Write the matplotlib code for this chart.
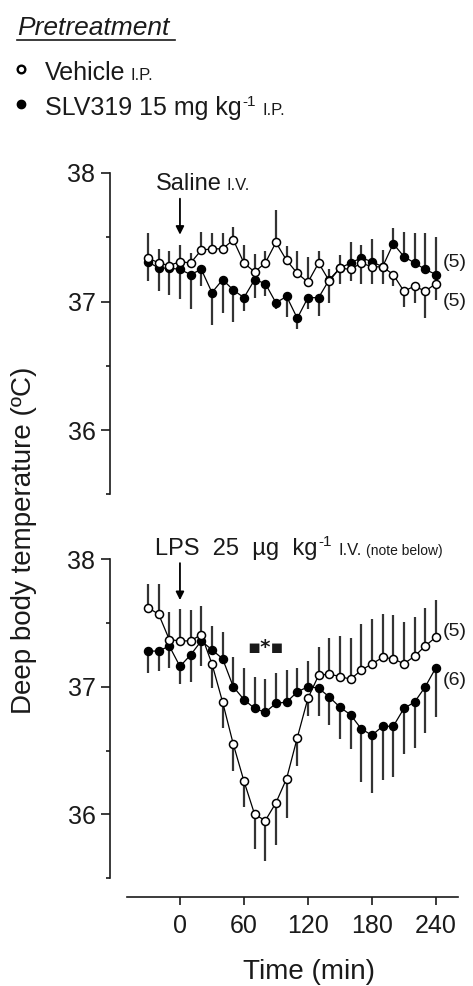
import numpy as np
import matplotlib
matplotlib.use("Agg")
import matplotlib.pyplot as plt
from matplotlib.lines import Line2D
from matplotlib.ticker import FixedLocator

plt.rcParams['font.family'] = ['Liberation Sans', 'DejaVu Sans']

# ---------------- data ----------------
time_min = [-30, -20, -10, 0, 10, 20, 30, 40, 50, 60, 70, 80, 90, 100, 110,
            120, 130, 140, 150, 160, 170, 180, 190, 200, 210, 220, 230, 240]

# Top panel: Saline I.V.
saline_vehicle = [37.34, 37.30, 37.28, 37.31, 37.30, 37.40, 37.41, 37.41, 37.48, 37.30,
                  37.23, 37.30, 37.46, 37.32, 37.22, 37.15, 37.30, 37.16, 37.26, 37.25,
                  37.30, 37.27, 37.27, 37.21, 37.08, 37.12, 37.08, 37.14]
saline_vehicle_sem = [0.19, 0.11, 0.11, 0.13, 0.08, 0.14, 0.12, 0.12, 0.10, 0.14,
                      0.14, 0.09, 0.25, 0.11, 0.17, 0.20, 0.09, 0.17, 0.10, 0.09,
                      0.16, 0.13, 0.13, 0.09, 0.12, 0.13, 0.21, 0.13]
saline_slv = [37.31, 37.26, 37.26, 37.25, 37.21, 37.25, 37.07, 37.17, 37.09, 37.03,
              37.17, 37.14, 36.99, 37.04, 36.87, 37.03, 37.03, 37.17, 37.26, 37.30,
              37.34, 37.31, 37.27, 37.45, 37.35, 37.30, 37.25, 37.21]
saline_slv_sem = [0.15, 0.18, 0.21, 0.23, 0.27, 0.13, 0.25, 0.26, 0.25, 0.10,
                  0.14, 0.10, 0.05, 0.16, 0.08, 0.09, 0.14, 0.08, 0.12, 0.16,
                  0.10, 0.18, 0.13, 0.12, 0.19, 0.23, 0.28, 0.29]

# Bottom panel: LPS 25 ug/kg I.V.
lps_vehicle = [37.62, 37.57, 37.37, 37.36, 37.36, 37.41, 37.18, 36.88, 36.55, 36.26,
               36.00, 35.95, 36.09, 36.28, 36.60, 36.91, 37.09, 37.10, 37.08, 37.06,
               37.13, 37.18, 37.23, 37.22, 37.18, 37.24, 37.32, 37.39]
lps_vehicle_sem = [0.19, 0.24, 0.22, 0.25, 0.24, 0.22, 0.19, 0.20, 0.21, 0.20,
                   0.27, 0.32, 0.33, 0.31, 0.22, 0.14, 0.22, 0.28, 0.32, 0.32,
                   0.36, 0.35, 0.34, 0.34, 0.33, 0.31, 0.30, 0.29]
lps_slv = [37.28, 37.28, 37.32, 37.16, 37.25, 37.36, 37.29, 37.22, 37.00, 36.90,
           36.83, 36.80, 36.87, 36.88, 36.96, 37.00, 36.99, 36.92, 36.84, 36.78,
           36.67, 36.62, 36.69, 36.69, 36.83, 36.88, 37.00, 37.15]
lps_slv_sem = [0.17, 0.16, 0.17, 0.14, 0.21, 0.20, 0.19, 0.21, 0.23, 0.25,
               0.25, 0.26, 0.24, 0.25, 0.19, 0.20, 0.22, 0.22, 0.25, 0.27,
               0.42, 0.45, 0.42, 0.40, 0.36, 0.36, 0.36, 0.39]

yticks = [36, 37, 38]
yticks_minor = [35.5, 36.5, 37.5]
xticks = [0, 60, 120, 180, 240]
n_labels_top = ['(5)', '(5)']
n_labels_bottom = ['(5)', '(6)']

# ---------------- figure ----------------
W, H = 473, 986
fig = plt.figure(figsize=(W / 100, H / 100), dpi=100)

ax_left = 110 / W
ax_w = (458.3 - 110) / W
ax_top = fig.add_axes([ax_left, 1 - 494.3 / H, ax_w, (494.3 - 173) / H])
ax_bot = fig.add_axes([ax_left, 1 - 878.0 / H, ax_w, (878.0 - 559.3) / H])

XLIM = (-65.6, 261)
err_color = '#333333'
ink = '#1a1a1a'


def style_axes(ax, show_x):
    ax.set_xlim(*XLIM)
    ax.set_ylim(35.5, 38.0)
    for s in ['top', 'right']:
        ax.spines[s].set_visible(False)
    ax.spines['left'].set_linewidth(1.2)
    ax.spines['left'].set_color(ink)
    ax.set_yticks(yticks)
    ax.yaxis.set_minor_locator(FixedLocator(yticks_minor))
    ax.tick_params(axis='y', which='major', length=6.5, width=1.2, labelsize=18,
                   pad=4, color=ink, labelcolor=ink)
    ax.tick_params(axis='y', which='minor', length=3.2, width=1.2, color=ink)
    if show_x:
        ax.spines['bottom'].set_position(('outward', 14))
        ax.spines['bottom'].set_bounds(-50, 261)
        ax.spines['bottom'].set_linewidth(1.2)
        ax.spines['bottom'].set_color(ink)
        ax.set_xticks(xticks)
        ax.tick_params(axis='x', length=6, width=1.2, labelsize=18, pad=6,
                       color=ink, labelcolor=ink)
    else:
        ax.spines['bottom'].set_visible(False)
        ax.set_xticks([])
    ax.patch.set_alpha(0)


def plot_pair(ax, veh, veh_sem, slv, slv_sem):
    t = np.array(time_min)
    veh = np.array(veh); slv = np.array(slv)
    veh_sem = np.array(veh_sem); slv_sem = np.array(slv_sem)
    veh_up = veh >= slv
    veh_err = [np.where(veh_up, 0, veh_sem), np.where(veh_up, veh_sem, 0)]
    slv_err = [np.where(veh_up, slv_sem, 0), np.where(veh_up, 0, slv_sem)]
    ax.errorbar(t, slv, yerr=slv_err, fmt='none', ecolor=err_color, elinewidth=1.6,
                capsize=0, zorder=2, clip_on=False)
    ax.errorbar(t, veh, yerr=veh_err, fmt='none', ecolor=err_color, elinewidth=1.6,
                capsize=0, zorder=2, clip_on=False)
    ax.plot(t, slv, '-', color='black', lw=0.9, marker='o', ms=5.8, mfc='black',
            mec='black', mew=1.0, zorder=3, clip_on=False)
    ax.plot(t, veh, '-', color='black', lw=0.9, marker='o', ms=5.8, mfc='white',
            mec='black', mew=1.1, zorder=4, clip_on=False)


style_axes(ax_top, False)
style_axes(ax_bot, True)
plot_pair(ax_top, saline_vehicle, saline_vehicle_sem, saline_slv, saline_slv_sem)
plot_pair(ax_bot, lps_vehicle, lps_vehicle_sem, lps_slv, lps_slv_sem)

# n labels
for lab, yv in zip(n_labels_top, [37.30, 37.00]):
    ax_top.text(246.5, yv, lab, fontsize=14, va='center', ha='left', color=ink)
for lab, yv in zip(n_labels_bottom, [37.43, 37.05]):
    ax_bot.text(246.5, yv, lab, fontsize=14, va='center', ha='left', color=ink)

# arrows
ax_top.annotate('', xy=(0, 37.52), xytext=(0, 37.80),
                arrowprops=dict(arrowstyle='-|>', lw=1.3, color='black', mutation_scale=12,
                                shrinkA=0, shrinkB=0))
ax_bot.annotate('', xy=(0, 37.68), xytext=(0, 37.97),
                arrowprops=dict(arrowstyle='-|>', lw=1.3, color='black', mutation_scale=12,
                                shrinkA=0, shrinkB=0), annotation_clip=False)

# significance marker
ax_bot.text(80, 37.31, '▪*▪', fontsize=14, fontweight='bold', ha='center', va='center',
            family=['DejaVu Sans'], color=ink)

renderer = fig.canvas.get_renderer()


def rich_line(x_px, y_px, pieces):
    """Place text pieces on one baseline; pieces = (text, size, gap_px, raise_px)."""
    x = x_px
    for s, size, gap, rise in pieces:
        t = fig.text(x / W, 1 - (y_px - rise) / H, s, fontsize=size, ha='left',
                     va='baseline', color=ink)
        bb = t.get_window_extent(renderer)
        x = bb.x1 + gap


# annotations above panels
rich_line(156, 190, [('Saline', 17, 5, 0), ('I.V.', 12, 0, 0)])
rich_line(155, 555, [('LPS  25  µg  kg', 17, 1, 0), ('-1', 11, 6, 9),
                     ('I.V.', 12, 5, 0), ('(note below)', 10, 0, 0)])

# legend block
fig.text(17 / W, 1 - 35 / H, 'Pretreatment', fontsize=19, style='italic',
         ha='left', va='baseline', color=ink)
fig.add_artist(Line2D([17 / W, 175 / W], [1 - 40 / H, 1 - 40 / H], color=ink, lw=1.2))
fig.add_artist(Line2D([21 / W], [1 - 69 / H], marker='o', ms=5.5, mfc='white', mec='black',
                      mew=1.7, ls='none'))
fig.add_artist(Line2D([21 / W], [1 - 104 / H], marker='o', ms=6, mfc='black', mec='black',
                      ls='none'))
rich_line(45, 80, [('Vehicle', 18, 5, 0), ('I.P.', 12, 0, 0)])
rich_line(45, 115, [('SLV319 15 mg kg', 18, 1, 0), ('-1', 11, 6, 9), ('I.P.', 12, 0, 0)])

# axis labels
fig.text(24 / W, 1 - 540 / H, 'Deep body temperature (ºC)', fontsize=20, rotation=90,
         ha='center', va='center', color=ink)
fig.text(309 / W, 1 - 972 / H, 'Time (min)', fontsize=20, ha='center', va='center',
         color=ink)

fig.savefig('out.png', dpi=100)
